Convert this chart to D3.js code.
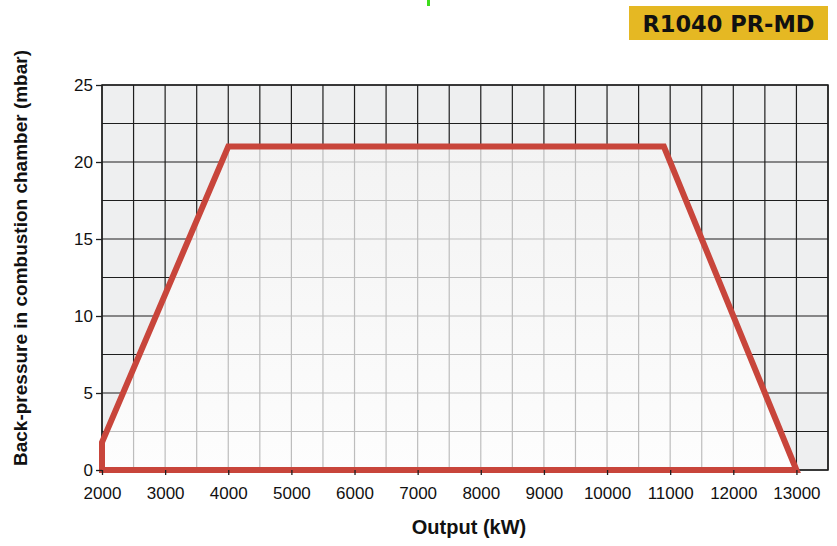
<!DOCTYPE html>
<html>
<head>
<meta charset="utf-8">
<script src="https://cdn.jsdelivr.net/npm/d3@7"></script>
<style>
  body { margin: 0; background: #fff; }
  text { font-family: "Liberation Sans", Arial, sans-serif; }
</style>
</head>
<body>
<div id="chart"></div>
<script>
// Data
var outputKW = [2000, 2000, 4000, 10900, 13000];
var backPressure = [0, 1.8, 21, 21, 0];
var xTicks = [2000, 3000, 4000, 5000, 6000, 7000, 8000, 9000, 10000, 11000, 12000, 13000];
var yTicks = [0, 5, 10, 15, 20, 25];
var modelName = "R1040 PR-MD";

var svgWidth = 837;
var svgHeight = 546;

var margin = { top: 85, bottom: 76, right: 9, left: 102 };
var chartWidth = svgWidth - margin.left - margin.right;
var chartHeight = svgHeight - margin.top - margin.bottom;

var svg = d3.select("#chart").append("svg")
  .attr("width", svgWidth)
  .attr("height", svgHeight);

var defs = svg.append("defs");
var grad = defs.append("linearGradient")
  .attr("id", "innerFill")
  .attr("x1", 0).attr("y1", 0).attr("x2", 0).attr("y2", 1);
grad.append("stop").attr("offset", "0%").attr("stop-color", "#f3f3f3");
grad.append("stop").attr("offset", "100%").attr("stop-color", "#fdfdfd");

var chartGroup = svg.append("g")
  .attr("transform", `translate(${margin.left}, ${margin.top})`);

// Scales
var xScale = d3.scaleLinear().domain([2000, 13500]).range([0, chartWidth]);
var yScale = d3.scaleLinear().domain([0, 25]).range([chartHeight, 0]);

var points = outputKW.map((x, i) => [xScale(x), yScale(backPressure[i])]);
var area = d3.line().curve(d3.curveLinearClosed);

defs.append("clipPath").attr("id", "envClip")
  .append("path").attr("d", area(points));

// Grey background
chartGroup.append("rect")
  .attr("width", chartWidth)
  .attr("height", chartHeight)
  .attr("fill", "#eeeff0");

var gridX = d3.range(2000, 13501, 500);
var gridY = d3.range(0, 25.01, 2.5);

function drawGrid(g, color) {
  g.selectAll(".vx").data(gridX).enter().append("line")
    .attr("x1", d => xScale(d)).attr("x2", d => xScale(d))
    .attr("y1", 0).attr("y2", chartHeight)
    .attr("stroke", color).attr("stroke-width", 1.2);
  g.selectAll(".hy").data(gridY).enter().append("line")
    .attr("x1", 0).attr("x2", chartWidth)
    .attr("y1", d => yScale(d)).attr("y2", d => yScale(d))
    .attr("stroke", color).attr("stroke-width", 1.2);
}

// dark grid outside envelope
drawGrid(chartGroup.append("g"), "#1e1e1e");

// envelope fill
chartGroup.append("path")
  .attr("d", area(points))
  .attr("fill", "url(#innerFill)");

// light grid inside envelope
drawGrid(chartGroup.append("g").attr("clip-path", "url(#envClip)"), "#bdbdbd");

// frame
chartGroup.append("rect")
  .attr("width", chartWidth)
  .attr("height", chartHeight)
  .attr("fill", "none")
  .attr("stroke", "#1e1e1e")
  .attr("stroke-width", 1.5);

// envelope outline
chartGroup.append("path")
  .attr("d", area(points))
  .attr("fill", "none")
  .attr("stroke", "#c8453b")
  .attr("stroke-width", 6)
  .attr("stroke-linejoin", "miter");

// Axes
var xAxis = d3.axisBottom(xScale).tickValues(xTicks).tickFormat(d3.format("d"))
  .tickSize(5).tickPadding(12);
var yAxis = d3.axisLeft(yScale).tickValues(yTicks).tickFormat(d3.format("d"))
  .tickSize(6).tickPadding(3);

var gx = chartGroup.append("g")
  .attr("transform", `translate(0, ${chartHeight})`)
  .call(xAxis);
var gy = chartGroup.append("g").call(yAxis);

[gx, gy].forEach(function(g) {
  g.select(".domain").remove();
  g.selectAll("line").attr("stroke", "#1e1e1e").attr("stroke-width", 1.3);
  g.selectAll("text")
    .attr("fill", "#111")
    .style("font-size", "17px")
    .style("font-family", "'Liberation Sans', Arial, sans-serif");
});

// Axis titles
svg.append("text")
  .attr("x", 469)
  .attr("y", 534)
  .attr("text-anchor", "middle")
  .style("font-size", "20px")
  .style("font-weight", "bold")
  .attr("fill", "#111")
  .text("Output (kW)");

svg.append("text")
  .attr("transform", "translate(27, 258) rotate(-90)")
  .attr("text-anchor", "middle")
  .style("font-size", "19px")
  .style("font-weight", "bold")
  .attr("fill", "#111")
  .text("Back-pressure in combustion chamber (mbar)");

// Model badge
svg.append("rect")
  .attr("x", 629).attr("y", 6)
  .attr("width", 199).attr("height", 34)
  .attr("fill", "#e5b823");
svg.append("text")
  .attr("x", 728.5).attr("y", 32)
  .attr("text-anchor", "middle")
  .style("font-size", "22.5px")
  .style("font-weight", "bold")
  .style("font-family", "'DejaVu Sans', sans-serif")
  .attr("fill", "#111")
  .text(modelName);

// small green mark at top
svg.append("rect")
  .attr("x", 427).attr("y", 0)
  .attr("width", 3).attr("height", 6)
  .attr("fill", "#3ddc1c");
</script>
</body>
</html>
